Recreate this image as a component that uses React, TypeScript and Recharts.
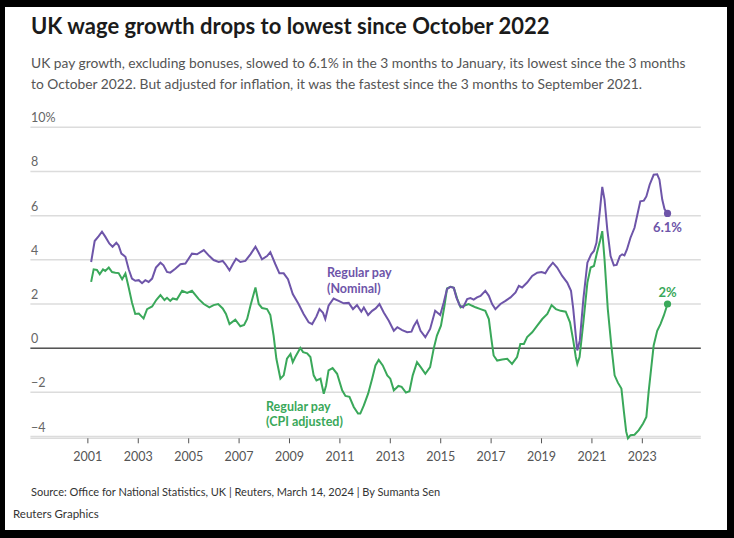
import React from 'react';
import { LineChart, Line, XAxis, YAxis, CartesianGrid, ReferenceLine } from 'recharts';

// [year (fractional), % change]
const nominalPay: [number, number][] = [
  [2001.13, 3.9], [2001.27, 4.85], [2001.43, 5.07], [2001.56, 5.27], [2001.69, 5.05], [2001.85, 4.74],
  [2001.98, 4.59], [2002.13, 4.77], [2002.22, 4.65], [2002.33, 4.28], [2002.49, 4.14], [2002.62, 3.57],
  [2002.75, 3.15], [2002.88, 3.05], [2003.02, 3.08], [2003.15, 2.94], [2003.28, 3.08], [2003.41, 3.0],
  [2003.55, 3.15], [2003.7, 3.65], [2003.88, 3.87], [2004.0, 3.75], [2004.14, 3.45], [2004.27, 3.42],
  [2004.47, 3.6], [2004.67, 3.8], [2004.87, 3.83], [2005.13, 4.28], [2005.33, 4.25], [2005.6, 4.44],
  [2005.82, 4.17], [2005.99, 3.99], [2006.19, 3.9], [2006.35, 3.95], [2006.46, 3.8], [2006.62, 3.53],
  [2006.75, 3.8], [2006.88, 4.05], [2007.05, 3.9], [2007.25, 3.95], [2007.45, 4.25], [2007.65, 4.59],
  [2007.78, 4.32], [2007.91, 4.02], [2008.11, 4.17], [2008.24, 4.35], [2008.44, 3.8], [2008.6, 3.39],
  [2008.77, 3.39], [2008.94, 3.12], [2009.13, 2.45], [2009.36, 2.0], [2009.56, 1.55], [2009.76, 1.17],
  [2009.9, 1.09], [2010.07, 1.44], [2010.19, 1.77], [2010.33, 1.6], [2010.42, 1.32], [2010.55, 1.92],
  [2010.75, 2.25], [2010.95, 2.14], [2011.15, 2.03], [2011.35, 2.05], [2011.52, 1.77], [2011.68, 1.95],
  [2011.85, 1.65], [2011.95, 1.84], [2012.12, 1.5], [2012.28, 1.69], [2012.42, 1.8], [2012.57, 2.0],
  [2012.74, 1.62], [2012.94, 1.24], [2013.14, 0.79], [2013.28, 0.95], [2013.47, 0.82], [2013.67, 0.72],
  [2013.84, 0.75], [2013.93, 0.99], [2014.06, 1.24], [2014.2, 0.79], [2014.39, 0.5], [2014.58, 0.87],
  [2014.78, 1.69], [2014.98, 1.5], [2015.12, 2.07], [2015.25, 2.67], [2015.38, 2.78], [2015.52, 2.73],
  [2015.62, 2.3], [2015.76, 1.92], [2015.89, 1.85], [2016.05, 2.22], [2016.18, 2.27], [2016.31, 2.2],
  [2016.44, 2.3], [2016.58, 2.37], [2016.77, 2.6], [2016.91, 2.37], [2017.04, 2.0], [2017.17, 1.77],
  [2017.37, 2.0], [2017.57, 2.14], [2017.77, 2.3], [2017.97, 2.52], [2018.1, 2.82], [2018.23, 2.75],
  [2018.43, 2.97], [2018.63, 3.27], [2018.83, 3.42], [2019.0, 3.45], [2019.15, 3.39], [2019.29, 3.65],
  [2019.45, 3.87], [2019.62, 3.65], [2019.82, 3.27], [2020.02, 2.97], [2020.17, 2.6], [2020.26, 1.77],
  [2020.36, 0.57], [2020.42, -0.1], [2020.52, 0.35], [2020.66, 2.22], [2020.82, 3.87], [2020.97, 4.25],
  [2021.08, 4.4], [2021.18, 4.77], [2021.32, 6.27], [2021.41, 7.3], [2021.5, 6.73], [2021.61, 5.37],
  [2021.74, 4.17], [2021.87, 3.75], [2021.98, 3.77], [2022.11, 4.17], [2022.2, 4.25], [2022.29, 4.2],
  [2022.39, 4.47], [2022.53, 5.0], [2022.69, 5.45], [2022.82, 6.13], [2022.92, 6.65], [2023.06, 6.68],
  [2023.16, 6.87], [2023.29, 7.4], [2023.45, 7.85], [2023.59, 7.87], [2023.68, 7.63], [2023.79, 6.73],
  [2023.88, 6.3], [2024.0, 6.1],
];

const cpiAdjustedPay: [number, number][] = [
  [2001.13, 3.0], [2001.23, 3.57], [2001.36, 3.54], [2001.47, 3.35], [2001.6, 3.57], [2001.69, 3.5],
  [2001.83, 3.65], [2001.96, 3.45], [2002.09, 3.42], [2002.22, 3.4], [2002.36, 3.12], [2002.49, 3.38],
  [2002.62, 2.75], [2002.75, 2.07], [2002.88, 1.55], [2003.02, 1.57], [2003.12, 1.45], [2003.21, 1.35],
  [2003.35, 1.77], [2003.55, 1.89], [2003.72, 2.19], [2003.88, 2.4], [2004.04, 2.18], [2004.14, 2.28],
  [2004.27, 2.14], [2004.37, 2.25], [2004.53, 2.2], [2004.74, 2.6], [2004.94, 2.5], [2005.13, 2.6],
  [2005.4, 2.22], [2005.6, 2.0], [2005.82, 1.85], [2005.99, 1.95], [2006.17, 2.0], [2006.35, 1.8],
  [2006.48, 1.55], [2006.62, 1.09], [2006.85, 1.29], [2007.05, 0.99], [2007.2, 1.05], [2007.32, 1.32],
  [2007.45, 1.92], [2007.65, 2.75], [2007.78, 2.0], [2007.91, 1.82], [2008.11, 1.77], [2008.24, 1.5],
  [2008.37, 0.57], [2008.48, -0.48], [2008.64, -1.38], [2008.77, -1.23], [2008.9, -0.48], [2009.04, -0.26],
  [2009.13, -0.63], [2009.23, -0.4], [2009.43, 0.01], [2009.54, -0.18], [2009.7, -0.23], [2009.83, -0.4],
  [2009.96, -1.23], [2010.07, -1.46], [2010.23, -1.38], [2010.36, -2.06], [2010.45, -1.7], [2010.55, -1.0],
  [2010.71, -0.9], [2010.89, -1.16], [2011.09, -1.91], [2011.22, -2.16], [2011.38, -2.2], [2011.55, -2.66],
  [2011.72, -2.96], [2011.81, -2.96], [2011.95, -2.59], [2012.12, -2.06], [2012.28, -1.38], [2012.41, -0.78],
  [2012.54, -0.53], [2012.7, -0.78], [2012.88, -1.23], [2013.0, -1.38], [2013.14, -1.91], [2013.32, -1.71],
  [2013.45, -1.75], [2013.62, -2.01], [2013.76, -1.95], [2013.89, -1.23], [2014.06, -0.63], [2014.2, -0.85],
  [2014.39, -1.16], [2014.58, -0.86], [2014.72, -0.03], [2014.85, 0.57], [2015.01, 1.02], [2015.15, 1.92],
  [2015.25, 2.7], [2015.4, 2.78], [2015.52, 2.73], [2015.66, 2.22], [2015.79, 1.85], [2015.92, 1.92],
  [2016.11, 2.0], [2016.25, 1.92], [2016.38, 1.85], [2016.58, 1.77], [2016.77, 1.69], [2016.91, 1.32],
  [2017.01, 0.42], [2017.1, -0.33], [2017.24, -0.56], [2017.44, -0.51], [2017.64, -0.48], [2017.83, -0.71],
  [2018.03, -0.4], [2018.16, 0.19], [2018.3, 0.19], [2018.43, 0.5], [2018.63, 0.72], [2018.83, 1.02],
  [2019.03, 1.32], [2019.23, 1.55], [2019.4, 1.95], [2019.57, 1.77], [2019.76, 1.69], [2019.96, 1.65],
  [2020.13, 1.17], [2020.26, 0.34], [2020.36, -0.4], [2020.42, -0.71], [2020.51, -0.4], [2020.66, 1.17],
  [2020.82, 2.97], [2020.95, 3.65], [2021.08, 3.72], [2021.2, 4.32], [2021.32, 4.85], [2021.41, 5.3],
  [2021.5, 4.02], [2021.63, 1.77], [2021.77, 0.12], [2021.9, -1.23], [2022.03, -1.56], [2022.17, -1.83],
  [2022.27, -2.88], [2022.36, -3.78], [2022.43, -4.08], [2022.53, -3.94], [2022.69, -3.92], [2022.86, -3.71],
  [2023.03, -3.41], [2023.16, -3.11], [2023.25, -1.98], [2023.35, -0.93], [2023.45, 0.12], [2023.59, 0.79],
  [2023.72, 1.09], [2023.85, 1.47], [2024.0, 2.0],
];

const yearTicks = [2001, 2003, 2005, 2007, 2009, 2011, 2013, 2015, 2017, 2019, 2021, 2023];
const pctTicks = [-4, -2, 0, 2, 4, 6, 8, 10];

const PURPLE = '#6e55a9';
const GREEN = '#3aa85a';
const FONT = 'Lato, "Open Sans", sans-serif';

const nominalData = nominalPay.map(([t, v]) => ({ t, v }));
const cpiData = cpiAdjustedPay.map(([t, v]) => ({ t, v }));

const fmtPct = (v: number) => (v === 10 ? '10%' : v < 0 ? `\u2212${Math.abs(v)}` : String(v));

// left-aligned labels sitting just above each gridline, as in the Reuters style
const renderYTick = (props: any) => (
  <text key={`y-${props.payload.value}`} x={31} y={props.y - 5} fill="#666" fontSize={12.5}
    fontFamily={FONT} textAnchor="start">
    {fmtPct(props.payload.value)}
  </text>
);

const endDot = (data: { t: number; v: number }[], color: string, label: string, dy: number) => (props: any) => {
  if (props.index !== data.length - 1) return <g key={`d-${props.index}`} />;
  return (
    <g key="end">
      <circle cx={props.cx} cy={props.cy} r={3.6} fill={color} />
      <text x={props.cx} y={props.cy + dy} fill={color} fontSize={13} fontWeight={700}
        fontFamily={FONT} textAnchor="middle">{label}</text>
    </g>
  );
};

export default function App() {
  return (
    <div style={{ position: 'absolute', left: 0, top: 0, width: 734, height: 538, background: '#000', fontFamily: FONT }}>
      <div style={{ position: 'absolute', left: 5, top: 7, width: 722, height: 523, background: '#fff' }} />

      <div style={{ position: 'absolute', left: 31, top: 12, fontSize: 22, fontWeight: 700, color: '#1b1b1b', whiteSpace: 'nowrap' }}>
        UK wage growth drops to lowest since October 2022
      </div>
      <div style={{ position: 'absolute', left: 31, top: 52, fontSize: 13.8, lineHeight: '21px', color: '#555', whiteSpace: 'nowrap' }}>
        <div>UK pay growth, excluding bonuses, slowed to 6.1% in the 3 months to January, its lowest since the 3 months</div>
        <div>to October 2022. But adjusted for inflation, it was the fastest since the 3 months to September 2021.</div>
      </div>

      <div style={{ position: 'absolute', left: 0, top: 0 }}>
        <LineChart width={734} height={538} margin={{ top: 127.3, right: 33.2, bottom: 69.7, left: 0.4 }}>
          <CartesianGrid vertical={false} stroke="#dcdcdc" strokeWidth={1.5} />
          <XAxis dataKey="t" type="number" domain={[1998.72, 2025.32]} ticks={yearTicks} allowDataOverflow
            height={30} axisLine={false} tickSize={5} tickMargin={9} tickLine={{ stroke: '#555' }}
            tick={{ fill: '#555', fontSize: 12.5, fontFamily: FONT }} interval={0} />
          <YAxis type="number" domain={[-4, 10]} ticks={pctTicks} width={30} axisLine={false} tickLine={false}
            tick={renderYTick} interval={0} />
          <ReferenceLine y={0} stroke="#555" strokeWidth={1.5} />
          <Line data={cpiData} dataKey="v" type="linear" stroke={GREEN} strokeWidth={2}
            dot={endDot(cpiData, GREEN, '2%', -7)} activeDot={false} isAnimationActive={false} />
          <Line data={nominalData} dataKey="v" type="linear" stroke={PURPLE} strokeWidth={2}
            dot={endDot(nominalData, PURPLE, '6.1%', 19)} activeDot={false} isAnimationActive={false} />
        </LineChart>
      </div>

      <div style={{ position: 'absolute', left: 327, top: 265, fontSize: 12.5, fontWeight: 700, lineHeight: '16px', color: PURPLE }}>
        <div>Regular pay</div>
        <div>(Nominal)</div>
      </div>
      <div style={{ position: 'absolute', left: 266, top: 399, fontSize: 12.5, fontWeight: 700, lineHeight: '15px', color: GREEN }}>
        <div>Regular pay</div>
        <div>(CPI adjusted)</div>
      </div>

      <div style={{ position: 'absolute', left: 31, top: 485, fontSize: 11, color: '#333', whiteSpace: 'nowrap' }}>
        Source: Office for National Statistics, UK | Reuters, March 14, 2024 | By Sumanta Sen
      </div>
      <div style={{ position: 'absolute', left: 13, top: 507, fontSize: 11.5, color: '#333', whiteSpace: 'nowrap' }}>
        Reuters Graphics
      </div>
    </div>
  );
}
